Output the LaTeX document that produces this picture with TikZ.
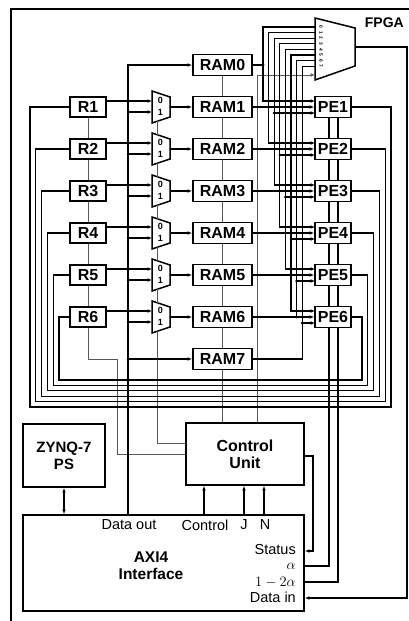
\documentclass[tikz,border=0pt]{standalone}
\usepackage{fontspec}
\setmainfont{Liberation Sans}
\usetikzlibrary{arrows.meta,calc}
\begin{document}
\begin{tikzpicture}[x=1pt,y=-1pt,
  box/.style={draw,line width=1.8pt,fill=white,font=\fontsize{16}{17}\selectfont\bfseries,inner sep=0pt,align=center},
  conn/.style={line width=1.3pt},
  chain/.style={line width=1pt,draw=black!65},
  muxs/.style={line width=1.5pt,fill=white},
  arr/.style={-{Latex[length=4.5pt,width=3.8pt]}},
  dot/.style={circle,fill,inner sep=0pt,minimum size=3pt},
  lbl/.style={font=\fontsize{14.5}{14.5}\selectfont,inner sep=0pt}]
\useasboundingbox (0,0) rectangle (409,621);
% FPGA frame
\draw[line width=2.2pt] (11,9) rectangle (420,630);
\node[font=\fontsize{14}{14}\selectfont\bfseries,anchor=east,inner sep=0pt] (fpga) at (404,23) {FPGA};

% R boxes, PE boxes, 2:1 muxes
\foreach \j in {1,...,6}{
  \pgfmathsetmacro\yy{65+42*\j}
  \node[box,minimum width=36pt,minimum height=20.5pt] (R\j) at (88,\yy) {R\j};
  \node[box,minimum width=36pt,minimum height=21pt] (PE\j) at (333,\yy) {PE\j};
  \coordinate (PEa\j) at (315,\yy-6);
  \coordinate (PEc\j) at (315,\yy+6);
  \draw[muxs] (152,\yy-16) -- (170,\yy-10) -- (170,\yy+10) -- (152,\yy+16) -- cycle;
  \coordinate (mi\j) at (152,\yy-6);
  \coordinate (mo\j) at (152,\yy+5);
  \coordinate (mout\j) at (170,\yy);
  \coordinate (mtop\j) at (157,\yy-14.3);
  \coordinate (mbot\j) at (157,\yy+14.3);
  \node[font=\fontsize{9}{9}\selectfont\bfseries,inner sep=0pt] at (160.5,\yy-6.5) {0};
  \node[font=\fontsize{9}{9}\selectfont\bfseries,inner sep=0pt] at (160.5,\yy+5) {1};
}
% RAMs
\foreach \k in {0,...,7}{
  \pgfmathsetmacro\yy{65+42*\k}
  \node[box,minimum width=59pt,minimum height=21pt] (RAM\k) at (222.5,\yy) {RAM\k};
}
% big mux
\draw[muxs] (315,18) -- (355,28) -- (355,66) -- (315,80) -- cycle;
\coordinate (bmout) at (355,47);
\coordinate (MS) at (315,75);
\foreach \k in {0,...,7}{
  \pgfmathsetmacro\xk{263+5.6*\k}
  \pgfmathsetmacro\yk{27+5.6*\k}
  \coordinate (L\k) at (\xk,0);
  \coordinate (MI\k) at (315,\yk);
  \node[font=\fontsize{4.8}{4.8}\selectfont\bfseries,rotate=-90,inner sep=0pt] at (321,\yk) {\k};
}

% Control unit, ZYNQ, AXI
\node[box,minimum width=118pt,minimum height=62pt] (CU) at (245,454) {Control\\Unit};
\node[box,font=\fontsize{15}{17}\selectfont\bfseries,minimum width=82pt,minimum height=63pt] (ZYNQ) at (64,455.5) {ZYNQ-7\\PS};
\node[box,minimum width=281pt,minimum height=96pt] (AXI) at (163.5,563) {};
\node[lbl] (tdout) at (129,525) {Data out};
\node[lbl] (tctl) at (205,525) {Control};
\node[lbl] (tj) at (244,525) {J};
\node[lbl] (tn) at (265,525) {N};
\node[font=\fontsize{15.5}{15.5}\selectfont\bfseries,inner sep=0pt] (taxi) at (151,557) {AXI4};
\node[font=\fontsize{15.5}{15.5}\selectfont\bfseries,inner sep=0pt] (tintf) at (151,574) {Interface};
\node[lbl,anchor=east] (tst) at (296,550) {Status};
\node[lbl,anchor=east] (tal) at (296,566) {$\alpha$};
\node[lbl,anchor=east] (t12a) at (296,582) {$1-2\alpha$};
\node[lbl,anchor=east] (tdin) at (296,597) {Data in};

% named helper coordinates
\coordinate (busD) at (128,0);
\coordinate (selx) at (257,0);
\coordinate (stx) at (313,0);
\coordinate (ax) at (329,0);
\coordinate (bx) at (338,0);
\coordinate (dix) at (407,0);
\coordinate (rcx) at (117,0);
\coordinate (rcy) at (0,359);
\coordinate (cx1) at (204,0);
\coordinate (cx2) at (244,0);
\coordinate (cx3) at (264,0);
\coordinate (ST) at ($(AXI.east)+(0,-12)$);
\coordinate (AL) at ($(AXI.east)+(0,3)$);
\coordinate (OA) at ($(AXI.east)+(0,19)$);
\coordinate (DIN) at ($(AXI.east)+(0,35)$);
\coordinate (CUsel) at ($(CU.west)+(0,-11)$);
\coordinate (CUst) at ($(CU.east)+(0,2)$);

% chains (gray)
\foreach \j/\k in {1/2,2/3,3/4,4/5,5/6}{
  \draw[chain] (R\j.south) -- (R\k.north);
  \draw[chain] (mbot\j) -- (mtop\k);
  \draw[conn] (PE\j.south -| ax) -- (PE\k.north -| ax);
  \draw[conn] (PE\j.south -| bx) -- (PE\k.north -| bx);
}
\foreach \j/\k in {0/1,1/2,2/3,3/4,4/5,5/6,6/7}{
  \draw[chain] (RAM\j.south) -- (RAM\k.north);
}
\draw[chain] (RAM7.south) -- (CU.north -| RAM7.south);
\draw[chain] (R6.south) -- (R6.south |- rcy) -- (rcx |- rcy) -- (rcx |- CU.west) -- (CU.west);
\draw[chain] (mbot6) -- (mbot6 |- CUsel) -- (CUsel);
\draw[chain,arr] (CU.north -| selx) -- (MS -| selx) -- (MS);

% R -> mux, mux -> RAM
\foreach \j in {1,...,6}{
  \draw[conn,arr] (R\j.east |- mi\j) -- (mi\j);
  \draw[conn,arr] (mout\j) -- (RAM\j.west);
  \draw[conn,arr] (mo\j -| busD) node[dot]{} -- (mo\j);
}
% data out bus
\draw[conn,arr] (AXI.north -| busD) -- (RAM0.west -| busD) -- (RAM0.west);
\draw[conn,arr] (RAM7.west -| busD) node[dot]{} -- (RAM7.west);

% RAM outputs to PEs and big mux
\foreach \k in {0,...,5}{
  \pgfmathtruncatemacro\j{\k+1}
  \draw[conn,arr] (MI\k) -- (MI\k -| L\k) -- (PEa\j -| L\k) -- (PEa\j);
}
\draw[conn] (MI6) -- (MI6 -| L6) -- (RAM6.east -| L6);
\draw[conn] (MI7) -- (MI7 -| L7) -- (RAM7.east -| L7) -- (RAM7.east);
\draw[conn] (RAM0.east) -- (RAM0.east -| L0) node[dot]{};
\foreach \j in {1,...,6}{
  \pgfmathtruncatemacro\k{\j+1}
  \draw[conn,arr] (RAM\j.east) -- (PE\j.west);
  \node[dot] at (RAM\j.east -| L\j) {};
  \draw[conn,arr] (PEc\j -| L\k) node[dot]{} -- (PEc\j);
}

% PE outputs loop back to R
\foreach \j in {1,...,6}{
  \pgfmathsetmacro\xr{391-5.8*(\j-1)}
  \pgfmathsetmacro\yb{407-5.4*(\j-1)}
  \pgfmathsetmacro\xl{30+5.8*(\j-1)}
  \coordinate (LR\j) at (\xr,\yb);
  \coordinate (LL\j) at (\xl,\yb);
  \draw[conn] (PE\j.east) -- (PE\j.east -| LR\j) -- (LR\j) -- (LL\j) -- (R\j.west -| LL\j) -- (R\j.west);
}

% AXI <-> PEs / CU
\draw[conn] (AL) -- (AL -| ax) -- (PE6.south -| ax);
\draw[conn] (OA) -- (OA -| bx) -- (PE6.south -| bx);
\draw[conn,arr] (CUst) -- (CUst -| stx) -- (ST -| stx) -- (ST);
\draw[conn,arr] (bmout) -- (bmout -| dix) -- (DIN -| dix) -- (DIN);
\foreach \c in {cx1,cx2,cx3}{
  \draw[conn,arr] (AXI.north -| \c) -- (CU.south -| \c);
}
\draw[conn,{Latex[length=4.5pt,width=3.8pt]}-{Latex[length=4.5pt,width=3.8pt]}] (ZYNQ.south) -- (AXI.north -| ZYNQ.south);
\end{tikzpicture}
\end{document}
